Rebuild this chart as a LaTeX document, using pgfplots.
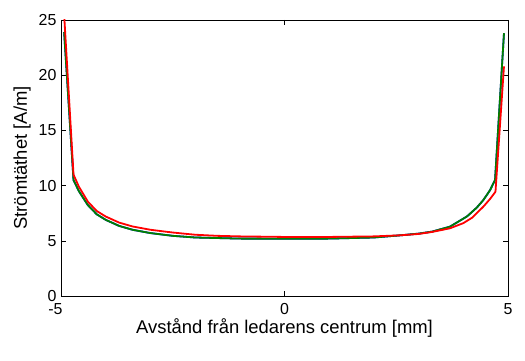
\documentclass[border=0pt]{standalone}
\usepackage{fontspec}
\setmainfont{Liberation Sans}
\usepackage{pgfplots}
\pgfplotsset{compat=1.18}
\definecolor{mgreen}{RGB}{0,128,0}
\begin{document}
\begin{tikzpicture}[x=1bp,y=1bp]
\path[use as bounding box] (-61,-64) rectangle (464,296);
\begin{axis}[
  at={(0,0)}, anchor=south west,
  scale only axis, width=447bp, height=276bp,
  xmin=-5, xmax=5, ymin=0, ymax=25,
  xtick={-5,0,5}, ytick={0,5,10,15,20,25},
  tick align=inside, major tick length=5bp,
  tick style={black, line width=0.6bp},
  axis line style={line width=0.6bp},
  /pgf/number format/assume math mode=true,
  xticklabels={{-5\rule{11bp}{0pt}},0,5},
  tick label style={font=\fontsize{16}{18}\selectfont},
  label style={font=\fontsize{18.5}{20}\selectfont},
  xlabel={Avstånd från ledarens centrum [mm]},
  ylabel={Strömtäthet [A/m]},
  xlabel style={at={(axis description cs:0.5,0)}, anchor=north, yshift=-19bp},
  ylabel style={at={(axis description cs:0,0.5)}, anchor=base, yshift=34bp},
  xticklabel style={yshift=-4bp},
  yticklabel style={xshift=-1bp},
  clip=true,
]
\addplot[blue, line width=1.8bp] coordinates {
(-4.93,23.9) (-4.72,10.5) (-4.6,9.5) (-4.4,8.24) (-4.2,7.4) (-4.0,6.9) (-3.7,6.35) (-3.4,6.0) (-3.0,5.7) (-2.5,5.45) (-2.0,5.3) (-1,5.2) (0,5.19) (1,5.2) (2.0,5.3) (2.6,5.5) (3.0,5.65) (3.3,5.83) (3.7,6.28) (4.08,7.2) (4.3,8.0) (4.45,8.7) (4.6,9.6) (4.71,10.5) (4.91,23.8)
};
\addplot[mgreen, line width=1.8bp] coordinates {
(-4.93,23.9) (-4.72,10.5) (-4.6,9.5) (-4.4,8.24) (-4.2,7.4) (-4.0,6.9) (-3.7,6.35) (-3.4,6.0) (-3.0,5.7) (-2.5,5.45) (-2.0,5.3) (-1,5.2) (0,5.19) (1,5.2) (2.0,5.3) (2.6,5.5) (3.0,5.65) (3.3,5.83) (3.7,6.28) (4.08,7.2) (4.3,8.0) (4.45,8.7) (4.6,9.6) (4.71,10.5) (4.91,23.8)
};
\addplot[red, line width=1.8bp] coordinates {
(-4.93,25.5) (-4.72,11.0) (-4.6,9.9) (-4.4,8.55) (-4.2,7.7) (-4.0,7.2) (-3.7,6.65) (-3.4,6.3) (-3.0,6.0) (-2.5,5.75) (-2.0,5.55) (-1.5,5.45) (-1.0,5.4) (0,5.35) (1.0,5.35) (2.0,5.4) (2.6,5.5) (3.0,5.62) (3.3,5.8) (3.7,6.13) (4.0,6.6) (4.2,7.1) (4.45,8.1) (4.6,8.8) (4.72,9.45) (4.91,20.8)
};
\end{axis}
\end{tikzpicture}
\end{document}
